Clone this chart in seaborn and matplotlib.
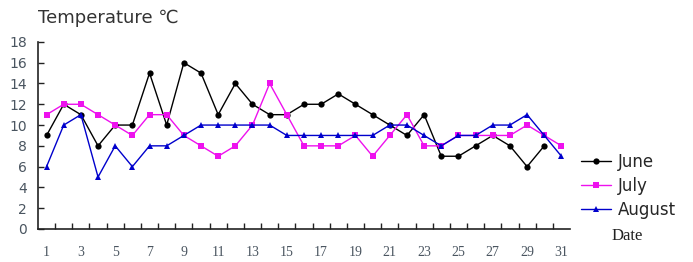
"""
Daily temperature for June, July and August
"""
import numpy as np
import pandas as pd
import matplotlib
matplotlib.use('Agg')
import matplotlib.pyplot as plt
import seaborn as sns

# ---- data ----
days_june = list(range(1, 31))
days_jul_aug = list(range(1, 32))

june = [9, 12, 11, 8, 10, 10, 15, 10, 16, 15, 11, 14, 12, 11, 11,
        12, 12, 13, 12, 11, 10, 9, 11, 7, 7, 8, 9, 8, 6, 8]
july = [11, 12, 12, 11, 10, 9, 11, 11, 9, 8, 7, 8, 10, 14, 11, 8,
        8, 8, 9, 7, 9, 11, 8, 8, 9, 9, 9, 9, 10, 9, 8]
august = [6, 10, 11, 5, 8, 6, 8, 8, 9, 10, 10, 10, 10, 10, 9, 9,
          9, 9, 9, 9, 10, 10, 9, 8, 9, 9, 10, 10, 11, 9, 7]

months = ['June', 'July', 'August']
y_ticks = list(range(0, 19, 2))
x_labels = list(range(1, 32, 2))

df = pd.concat([
    pd.DataFrame({'Date': days_june, 'Temp': june, 'Month': 'June'}),
    pd.DataFrame({'Date': days_jul_aug, 'Temp': july, 'Month': 'July'}),
    pd.DataFrame({'Date': days_jul_aug, 'Temp': august, 'Month': 'August'}),
], ignore_index=True)

sns.set_style('white')

fig = plt.figure(figsize=(6.93, 2.62), dpi=100)
ax = fig.add_axes([0.0548, 0.126, 0.7677, 0.714])

palette = {'June': '#000000', 'July': '#ee11ee', 'August': '#0000cc'}
markers = {'June': 'o', 'July': 's', 'August': '^'}

sns.lineplot(data=df, x='Date', y='Temp', hue='Month', style='Month',
             hue_order=months, style_order=months,
             palette=palette, markers=markers, dashes=False,
             linewidth=1.0, markersize=4.5, markeredgewidth=0,
             ax=ax)

ax.set_xlim(0.5, 31.5)
ax.set_ylim(0, 18)
ax.set_yticks(y_ticks)
ax.set_xticks(x_labels)
ax.set_xticks(np.arange(1.5, 31.5, 1), minor=True)
ax.set_xlabel('')
ax.set_ylabel('')

for s in ['top', 'right']:
    ax.spines[s].set_visible(False)
for s in ['left', 'bottom']:
    ax.spines[s].set_color('#222222')
    ax.spines[s].set_linewidth(1.2)

tick_col = '#4a5560'
ax.tick_params(axis='y', direction='in', length=4, width=1, color='#222222',
               labelsize=10, labelcolor=tick_col, pad=8, left=True)
ax.tick_params(axis='x', which='major', length=0, labelsize=10,
               labelcolor=tick_col, pad=12)
ax.tick_params(axis='x', which='minor', direction='in', length=4, width=1,
               color='#222222', bottom=True)
for lab in ax.get_xticklabels():
    lab.set_family('Liberation Serif')

# legend on the right
ax.get_legend().remove()
handles, labels = ax.get_legend_handles_labels()
fig.legend(handles, labels, loc='center left',
           bbox_to_anchor=(0.838, 0.29), frameon=False, borderpad=0,
           borderaxespad=0, fontsize=12, handlelength=1.8,
           handletextpad=0.4, labelspacing=0.35)

fig.text(612 / 693, 1 - 236 / 262, 'Date', family='Liberation Serif',
         fontsize=12, va='center', ha='left', color='#222222')
fig.text(38 / 693, 1 - 18 / 262, 'Temperature \u2103',
         family=['DejaVu Sans', 'Noto Sans CJK SC'],
         fontsize=13, va='center', ha='left', color='#333333')

plt.savefig('out.png', dpi=100)
